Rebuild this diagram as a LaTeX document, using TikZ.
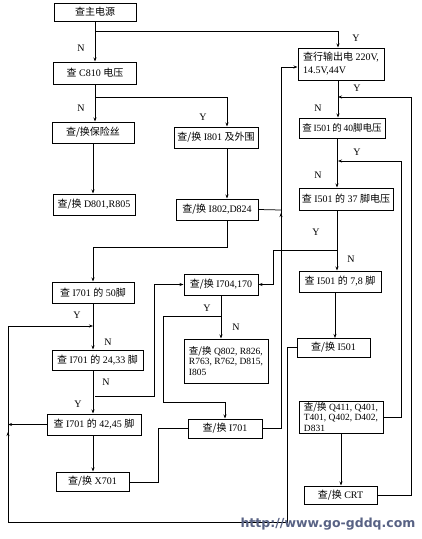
\documentclass[tikz,border=0pt]{standalone}
\usepackage{fontspec}
\setmainfont{Liberation Serif}
\newfontfamily\cjk{Noto Sans CJK SC}
\newfontfamily\wmfont{DejaVu Sans}
\usetikzlibrary{arrows.meta}
\newcommand\zh[1]{{\cjk #1}}
\definecolor{wmcol}{RGB}{88,98,132}
\begin{document}
\begin{tikzpicture}[x=1pt,y=-1pt,
  box/.style={draw, line width=1pt, inner sep=0pt, font=\fontsize{10}{12}\selectfont},
  arr/.style={-{Stealth[length=4pt,width=3pt]}, line width=0.75pt},
  ln/.style={line width=0.75pt},
  lab/.style={inner sep=0pt, font=\fontsize{10}{12}\selectfont}]
\useasboundingbox (0,0) rectangle (422,539);
% boxes
\node[box, minimum width=82, minimum height=18] (main) at (95,12) {\zh{查主电源}};
\node[box, minimum width=83, minimum height=22] (c810) at (95,73) {\zh{查} C810 \zh{电压}};
\node[box, minimum width=82, minimum height=21] (fuse) at (93,132.5) {\zh{查/换保险丝}};
\node[box, minimum width=82, minimum height=21] (d801) at (94,204.5) {\zh{查/换} D801,R805};
\node[box, minimum width=84, minimum height=21] (i801) at (216,137.5) {\zh{查/换} I801 \zh{及外围}};
\node[box, minimum width=82, minimum height=21] (i802) at (217,209.5) {\zh{查/换} I802,D824};
\node[box, minimum width=86, minimum height=32, align=left, font=\fontsize{10}{13}\selectfont] (hang) at (341,64) {\zh{查行输出电} 220V,\\14.5V,44V};
\node[box, minimum width=86, minimum height=20, font=\fontsize{9.5}{12}\selectfont] (pin40) at (342,128) {\zh{查}\,I501\,\zh{的}\,40\zh{脚电压}};
\node[box, minimum width=94, minimum height=22] (pin37) at (346,199) {\zh{查} I501 \zh{的} 37 \zh{脚电压}};
\node[box, minimum width=82, minimum height=21] (pin78) at (340,281.5) {\zh{查} I501 \zh{的} 7,8 \zh{脚}};
\node[box, minimum width=73, minimum height=19] (i501) at (333.5,347.5) {\zh{查/换} I501};
\node[box, minimum width=84, minimum height=32, align=left, font=\fontsize{9.5}{10.5}\selectfont] (q411) at (341,417) {\zh{查/换} Q411, Q401,\\T401, Q402, D402,\\D831};
\node[box, minimum width=73, minimum height=18] (crt) at (340.5,495) {\zh{查/换} CRT};
\node[box, minimum width=82, minimum height=21] (p50) at (93,292.5) {\zh{查} I701 \zh{的} 50\zh{脚}};
\node[box, minimum width=91, minimum height=20] (p2433) at (97.5,360) {\zh{查} I701 \zh{的} 24,33 \zh{脚}};
\node[box, minimum width=94, minimum height=21] (p4245) at (94,424.5) {\zh{查} I701 \zh{的} 42,45 \zh{脚}};
\node[box, minimum width=73, minimum height=19] (x701) at (92.5,481.5) {\zh{查/换} X701};
\node[box, minimum width=74, minimum height=21] (i704) at (221,284.5) {\zh{查/换} I704,170};
\node[box, minimum width=84, minimum height=44, align=left, font=\fontsize{9.5}{10.5}\selectfont] (q802) at (226,361) {\zh{查/换} Q802, R826,\\R763, R762, D815,\\I805};
\node[box, minimum width=74, minimum height=19] (i701b) at (225,428.5) {\zh{查/换} I701};
% junction coordinates
\coordinate (a1) at (95,31);
\coordinate (a2) at (338,31);
\coordinate (b1) at (95,97);
\coordinate (b2) at (227,97);
\coordinate (c1) at (227,247);
\coordinate (c2) at (93,247);
\coordinate (v1) at (281,210);
\coordinate (v2) at (281,428.5);
\coordinate (v3) at (281,67);
\coordinate (l1) at (287,347.5);
\coordinate (l2) at (287,522);
\coordinate (l3) at (8,522);
\coordinate (l4) at (8,326);
\coordinate (l5) at (93,326);
\coordinate (l6) at (8,424.5);
\coordinate (m1) at (95,396);
\coordinate (m2) at (154,396);
\coordinate (m3) at (154,284.5);
\coordinate (n1) at (221,316);
\coordinate (n2) at (163,316);
\coordinate (n3) at (163,402);
\coordinate (n4) at (225,402);
\coordinate (o1) at (158,482);
\coordinate (o2) at (158,428.5);
\coordinate (q1) at (337,250);
\coordinate (q2) at (273,250);
\coordinate (q3) at (273,284.5);
\coordinate (r0) at (338,80);
\coordinate (s1) at (411,495);
\coordinate (s2) at (411,97);
\coordinate (s3) at (338,97);
\coordinate (u1) at (401,417);
\coordinate (u2) at (401,161);
\coordinate (u3) at (338,161);
\coordinate (x1) at (341,433);
% left column
\draw[arr] (main.south) -- (main.south |- c810.north);
\draw[ln] (a1) -- (a2);
\draw[arr] (a2) -- (a2 |- hang.north);
\draw[arr] (c810.south) -- (c810.south |- fuse.north);
\draw[ln] (b1) -- (b2);
\draw[arr] (b2) -- (b2 |- i801.north);
\draw[arr] (fuse.south) -- (fuse.south |- d801.north);
\draw[arr] (b2 |- i801.south) -- (b2 |- i802.north);
\draw[ln] (b2 |- i802.south) -- (c1) -- (c2);
\draw[arr] (c2) -- (c2 |- p50.north);
\draw[ln] (i802.east) -- (v1);
\draw[arr] (i701b.east) -- (v2) -- (v3) -- (v3 -| hang.west);
\draw[arr] (281,226) -- (281,213);
\draw[arr] (c2 |- p50.south) -- (c2 |- p2433.north);
\draw[arr] (i501.west) -- (l1) -- (l2) -- (l3) -- (l4) -- (l5);
\draw[arr] (8,446) -- (8,432);
\draw[arr] (p4245.west) -- (l6);
\draw[arr] (c2 |- p2433.south) -- (c2 |- p4245.north);
\draw[arr] (m1) -- (m2) -- (m3) -- (i704.west);
\draw[arr] (c2 |- p4245.south) -- (c2 |- x701.north);
\draw[ln] (x701.east |- o1) -- (o1) -- (o2) -- (i701b.west);
\draw[arr] (n1 |- i704.south) -- (n1 |- q802.north);
\draw[ln] (n1) -- (n2) -- (n3) -- (n4);
\draw[arr] (n4) -- (n4 |- i701b.north);
% right column
\draw[arr] (r0) -- (r0 |- pin40.north);
\draw[arr] (q1 |- pin40.south) -- (q1 |- pin37.north);
\draw[arr] (q1 |- pin37.south) -- (q1 |- pin78.north);
\draw[arr] (q1) -- (q2) -- (q3) -- (i704.east);
\draw[arr] (335,292) -- (335,338) ;
\draw[arr] (x1) -- (x1 |- crt.north);
\draw[arr] (crt.east) -- (s1) -- (s2) -- (s3);
\draw[arr] (q411.east |- u1) -- (u1) -- (u2) -- (u3);
% labels
\node[lab] (t1) at (81,48) {N};
\node[lab] (t2) at (356,38) {Y};
\node[lab] (t3) at (81,108) {N};
\node[lab] (t4) at (203,117) {Y};
\node[lab] (t5) at (77,315) {Y};
\node[lab] (t6) at (108,342) {N};
\node[lab] (t7) at (106,382) {N};
\node[lab] (t8) at (78,404) {Y};
\node[lab] (t9) at (207,308) {Y};
\node[lab] (t10) at (236,327) {N};
\node[lab] (t11) at (318,108) {N};
\node[lab] (t12) at (357,88) {Y};
\node[lab] (t13) at (318,175) {N};
\node[lab] (t14) at (357,152) {Y};
\node[lab] (t15) at (316,232) {Y};
\node[lab] (t16) at (351,259) {N};
% watermark
\node[inner sep=0pt, text=wmcol, font=\wmfont\bfseries\fontsize{12.5}{14}\selectfont] (wm) at (328,524) {http://www.go-gddq.com};
\end{tikzpicture}
\end{document}
